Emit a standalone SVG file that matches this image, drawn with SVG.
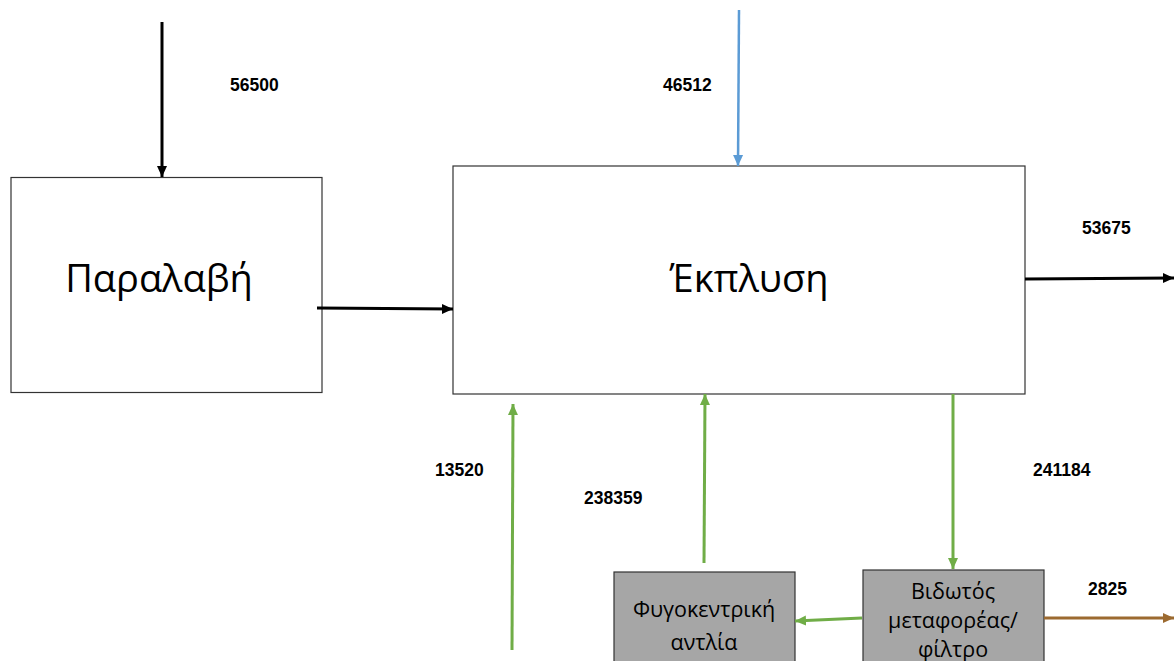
<svg xmlns="http://www.w3.org/2000/svg" width="1174" height="661" viewBox="0 0 1174 661">
<style>
.box{fill:#fff;stroke:#333;stroke-width:1.2}
.gbox{fill:#a6a6a6;stroke:#333;stroke-width:1.2}
.big{font-family:"Open Sans","Liberation Sans",sans-serif;font-size:38px;fill:#000;text-anchor:middle}
.small{font-family:"Open Sans","Liberation Sans",sans-serif;font-size:21.5px;fill:#000;text-anchor:middle}
.num{font-family:"Liberation Sans",sans-serif;font-size:17.5px;font-weight:bold;fill:#000}
.k{stroke:#000;stroke-width:3;fill:none}
.g{stroke:#70ad47;stroke-width:3;fill:none}
.b{stroke:#5b9bd5;stroke-width:2.5;fill:none}
.br{stroke:#9c6a30;stroke-width:3;fill:none}
</style>
<defs>
<marker id="ak" markerUnits="userSpaceOnUse" markerWidth="12" markerHeight="12" refX="11" refY="6" orient="auto"><path d="M0,1 L11,6 L0,11 Z" fill="#000"/></marker>
<marker id="ag" markerUnits="userSpaceOnUse" markerWidth="12" markerHeight="12" refX="11" refY="6" orient="auto"><path d="M0,1 L11,6 L0,11 Z" fill="#70ad47"/></marker>
<marker id="ab" markerUnits="userSpaceOnUse" markerWidth="12" markerHeight="12" refX="11" refY="6" orient="auto"><path d="M0,1 L11,6 L0,11 Z" fill="#5b9bd5"/></marker>
<marker id="abr" markerUnits="userSpaceOnUse" markerWidth="12" markerHeight="12" refX="11" refY="6" orient="auto"><path d="M0,1 L11,6 L0,11 Z" fill="#9c6a30"/></marker>
</defs>
<rect width="1174" height="661" fill="#fff"/>
<g id="paralavi"><rect class="box" x="11" y="177.5" width="311" height="215"/><text class="big" x="159" y="292">Παραλαβή</text></g>
<g id="ekplysi"><rect class="box" x="453" y="166" width="572" height="228"/><text class="big" x="749" y="292" font-size="35">Έκπλυση</text></g>
<g id="antlia"><rect class="gbox" x="614" y="572" width="181" height="95"/><text class="small" x="704" y="617">Φυγοκεντρική</text><text class="small" x="704" y="650">αντλία</text></g>
<g id="vidotos"><rect class="gbox" x="863" y="570" width="181" height="97"/><text class="small" x="953" y="599">Βιδωτός</text><text class="small" x="953" y="628">μεταφορέας/</text><text class="small" x="953" y="657">φίλτρο</text></g>
<g id="connectors">
<line class="k" x1="162" y1="22" x2="162" y2="177" marker-end="url(#ak)"/>
<line class="k" x1="317" y1="308" x2="453" y2="309" marker-end="url(#ak)"/>
<line class="b" x1="739" y1="10" x2="738" y2="166" marker-end="url(#ab)"/>
<line class="k" x1="1025" y1="279" x2="1174" y2="278" marker-end="url(#ak)"/>
<line class="g" x1="512" y1="650" x2="513" y2="404" marker-end="url(#ag)"/>
<line class="g" x1="704" y1="563" x2="705" y2="394" marker-end="url(#ag)"/>
<line class="g" x1="953" y1="394" x2="953" y2="569" marker-end="url(#ag)"/>
<line class="g" x1="862" y1="618" x2="795" y2="621" marker-end="url(#ag)"/>
<line class="br" x1="1044" y1="618" x2="1174" y2="618" marker-end="url(#abr)"/>
</g>
<g id="labels">
<text class="num" x="230" y="91">56500</text>
<text class="num" x="663" y="91">46512</text>
<text class="num" x="1082" y="234">53675</text>
<text class="num" x="435" y="476">13520</text>
<text class="num" x="584" y="504">238359</text>
<text class="num" x="1033" y="476">241184</text>
<text class="num" x="1088" y="595">2825</text>
</g>
</svg>
